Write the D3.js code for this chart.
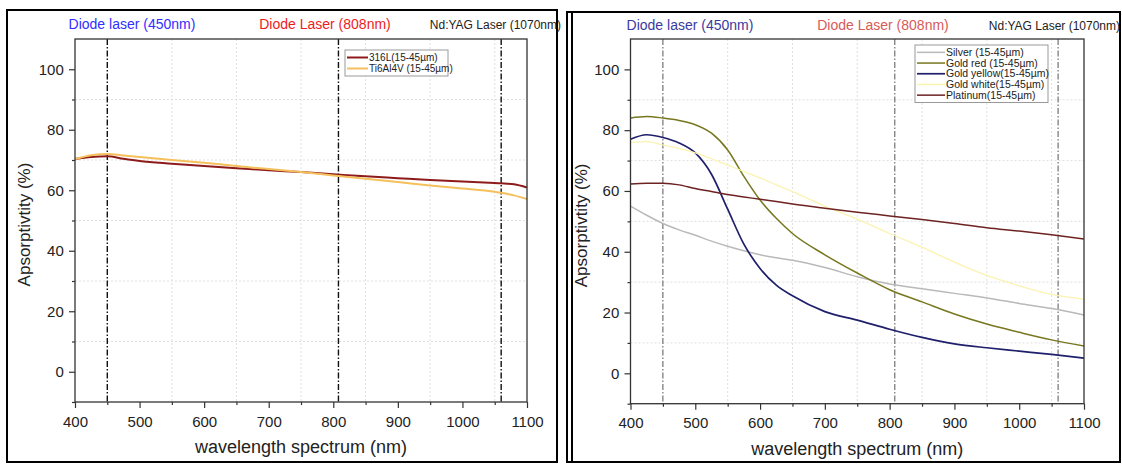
<!DOCTYPE html>
<html>
<head>
<meta charset="utf-8">
<script src="https://cdn.jsdelivr.net/npm/d3@7"></script>
<style>
  body { margin: 0; background: #fff; }
  svg { display: block; font-family: "Liberation Sans", Arial, sans-serif; }
</style>
</head>
<body>
<svg id="chart" width="1122" height="464"></svg>
<script>
// ---- data ----
const laserLines = [450, 808, 1060]
const xTicks = [400, 500, 600, 700, 800, 900, 1000, 1100]
const yTicks = [0, 20, 40, 60, 80, 100]

// left panel
const wlLeft = [400, 425, 450, 475, 500, 550, 600, 650, 700, 750, 800, 850, 900, 950, 1000, 1050, 1060, 1080, 1100]
const abs316L = [70.3, 71.0, 71.2, 70.4, 69.7, 68.8, 68.0, 67.3, 66.6, 66.0, 65.3, 64.6, 64.0, 63.4, 62.9, 62.4, 62.3, 62.0, 60.9]
const absTi64 = [70.3, 71.6, 72.0, 71.5, 71.0, 70.0, 69.1, 68.0, 67.0, 66.0, 64.9, 63.8, 62.7, 61.6, 60.6, 59.5, 59.2, 58.3, 57.1]

// right panel
const wlRight = [400, 425, 450, 475, 500, 525, 550, 575, 600, 625, 650, 700, 750, 800, 850, 900, 950, 1000, 1050, 1100]
const absSilver = [55, 52, 49.3, 47.2, 45.4, 43.5, 41.8, 40.3, 39, 38, 37.2, 34.8, 31.8, 29.4, 27.8, 26.3, 24.8, 23, 21.3, 19.2]
const absGoldRed = [84, 84.5, 84, 83.2, 81.8, 79, 73.5, 64.8, 57, 51, 46, 39, 33, 27.5, 23.5, 19.5, 16.2, 13.5, 11, 9]
const absGoldYellow = [77, 78.5, 77.6, 75.8, 72.5, 65.5, 54, 42.5, 34.5, 29, 25.5, 20.3, 17.5, 14.5, 11.8, 9.7, 8.4, 7.3, 6.2, 5]
const absGoldWhite = [76, 76.2, 75.1, 74, 72.5, 70.6, 68.5, 66.4, 64.3, 62, 59.8, 55, 50.7, 46, 41.5, 36.6, 32.2, 28.8, 26, 24.4]
const absPlatinum = [62.3, 62.5, 62.5, 62, 60.8, 59.8, 58.8, 58, 57.3, 56.5, 55.7, 54.3, 53, 51.8, 50.6, 49.3, 47.9, 46.8, 45.6, 44.2]

const svg = d3.select("#chart")

function drawPanel(cfg) {
    const g = svg.append("g")

    // outer frame of the picture
    g.append("rect")
        .attr("x", cfg.box[0]).attr("y", cfg.box[1])
        .attr("width", cfg.box[2]).attr("height", cfg.box[3])
        .attr("fill", "none").attr("stroke", "#000").attr("stroke-width", 2)

    const x = d3.scaleLinear().domain([400, 1100]).range([cfg.left, cfg.right])
    const y = d3.scaleLinear().domain([-10, 110]).range([cfg.bottom, cfg.top])

    // light dotted grid on the minor positions
    const gridX = d3.range(550, 1100, 100)
    const gridY = d3.range(10, 110, 20)
    g.selectAll(".gx").data(gridX).join("line")
        .attr("x1", d => x(d)).attr("x2", d => x(d))
        .attr("y1", cfg.top).attr("y2", cfg.bottom)
        .attr("stroke", "#d8d8d8").attr("stroke-width", 0.8).attr("stroke-dasharray", "2,2")
    g.selectAll(".gy").data(gridY).join("line")
        .attr("x1", cfg.left).attr("x2", cfg.right)
        .attr("y1", d => y(d)).attr("y2", d => y(d))
        .attr("stroke", "#d8d8d8").attr("stroke-width", 0.8).attr("stroke-dasharray", "2,2")

    // laser wavelength markers
    g.selectAll(".laser").data(laserLines).join("line")
        .attr("x1", d => x(d)).attr("x2", d => x(d))
        .attr("y1", cfg.top).attr("y2", cfg.bottom)
        .attr("stroke", cfg.laserColor).attr("stroke-width", cfg.laserWidth)
        .attr("stroke-dasharray", "6,2,1.5,2")

    // curves
    const line = d3.line()
        .x(d => x(d[0])).y(d => y(d[1]))
        .curve(d3.curveMonotoneX)
    cfg.series.forEach(s => {
        g.append("path")
            .datum(cfg.wl.map((w, i) => [w, s.values[i]]))
            .attr("d", line)
            .attr("fill", "none")
            .attr("stroke", s.color)
            .attr("stroke-width", s.width)
    })

    // frame of the plot area
    g.append("rect")
        .attr("x", cfg.left).attr("y", cfg.top)
        .attr("width", cfg.right - cfg.left).attr("height", cfg.bottom - cfg.top)
        .attr("fill", "none").attr("stroke", "#333").attr("stroke-width", 1.3)

    // axes
    const xAxis = g.append("g")
        .attr("transform", `translate(0,${cfg.bottom})`)
        .call(d3.axisBottom(x).tickValues(xTicks).tickSize(6).tickFormat(d3.format("d")))
    const xMinor = g.append("g")
        .attr("transform", `translate(0,${cfg.bottom})`)
        .call(d3.axisBottom(x).tickValues(d3.range(450, 1100, 100)).tickSize(3).tickFormat(""))
    const yAxis = g.append("g")
        .attr("transform", `translate(${cfg.left},0)`)
        .call(d3.axisLeft(y).tickValues(yTicks).tickSize(6))
    const yMinor = g.append("g")
        .attr("transform", `translate(${cfg.left},0)`)
        .call(d3.axisLeft(y).tickValues(d3.range(-10, 110, 20)).tickSize(3).tickFormat(""))

    ;[xAxis, xMinor, yAxis, yMinor].forEach(a => {
        a.select(".domain").remove()
        a.selectAll(".tick line").attr("stroke", "#333").attr("stroke-width", 1.2)
    })
    xAxis.selectAll("text").attr("font-size", 15).attr("fill", "#222").attr("dy", "1.05em")
    yAxis.selectAll("text").attr("font-size", 15).attr("fill", "#222").attr("dx", "-0.15em")

    // axis titles
    g.append("text")
        .attr("x", (cfg.left + cfg.right) / 2).attr("y", cfg.bottom + 51)
        .attr("text-anchor", "middle").attr("font-size", 18).attr("fill", "#222")
        .text("wavelength spectrum (nm)")
    g.append("text")
        .attr("transform", `translate(${cfg.yTitleX},${(cfg.top + cfg.bottom) / 2 + 4}) rotate(-90)`)
        .attr("text-anchor", "middle").attr("font-size", 17).attr("fill", "#222")
        .text("Apsorptivtity (%)")

    // laser headings
    cfg.headers.forEach(h => {
        g.append("text")
            .attr("x", h.x).attr("y", cfg.headerY)
            .attr("text-anchor", h.anchor)
            .attr("font-size", h.size).attr("fill", h.color)
            .text(h.text)
    })

    // legend
    const lg = cfg.legend
    g.append("rect")
        .attr("x", lg.x).attr("y", lg.y).attr("width", lg.w).attr("height", lg.rowH * cfg.series.length + 4)
        .attr("fill", "#fff").attr("stroke", "#999").attr("stroke-width", 1)
    cfg.series.forEach((s, i) => {
        const ry = lg.y + 2 + lg.rowH * (i + 0.5)
        g.append("line")
            .attr("x1", lg.x + 2).attr("x2", lg.x + lg.lineW)
            .attr("y1", ry).attr("y2", ry)
            .attr("stroke", s.color).attr("stroke-width", Math.max(s.width, 1.5))
        g.append("text")
            .attr("x", lg.x + lg.lineW + 1).attr("y", ry + 3.5)
            .attr("font-size", lg.font).attr("fill", "#222")
            .text(s.name)
    })
}

drawPanel({
    box: [7, 10, 550, 452],
    left: 75, right: 527, top: 39, bottom: 402,
    yTitleX: 30, headerY: 29,
    laserColor: "#111", laserWidth: 1.4,
    wl: wlLeft,
    series: [
        { name: "316L(15-45\u00b5m)", values: abs316L, color: "#8e1b1b", width: 2 },
        { name: "Ti6Al4V (15-45\u00b5m)", values: absTi64, color: "#f5c05c", width: 2 }
    ],
    headers: [
        { text: "Diode laser (450nm)", x: 132, anchor: "middle", size: 14, color: "#2f2fff" },
        { text: "Diode Laser (808nm)", x: 325, anchor: "middle", size: 14, color: "#ee1c1c" },
        { text: "Nd:YAG Laser (1070nm)", x: 561, anchor: "end", size: 12, color: "#222" }
    ],
    legend: { x: 345, y: 50, w: 103, rowH: 11, lineW: 23, font: 10 }
})

drawPanel({
    box: [567, 12, 553, 450],
    left: 630.5, right: 1084, top: 39, bottom: 403.7,
    yTitleX: 587, headerY: 30,
    laserColor: "#555", laserWidth: 1,
    wl: wlRight,
    series: [
        { name: "Silver (15-45\u00b5m)", values: absSilver, color: "#b9b9b9", width: 1.5 },
        { name: "Gold red (15-45\u00b5m)", values: absGoldRed, color: "#77771f", width: 1.5 },
        { name: "Gold yellow(15-45\u00b5m)", values: absGoldYellow, color: "#1f1f6b", width: 1.7 },
        { name: "Gold white(15-45\u00b5m)", values: absGoldWhite, color: "#fbf3b0", width: 1.3 },
        { name: "Platinum(15-45\u00b5m)", values: absPlatinum, color: "#6e2222", width: 1.5 }
    ],
    headers: [
        { text: "Diode laser (450nm)", x: 690, anchor: "middle", size: 14, color: "#3a3aa0" },
        { text: "Diode Laser (808nm)", x: 883, anchor: "middle", size: 14, color: "#d75a5a" },
        { text: "Nd:YAG Laser (1070nm)", x: 1120, anchor: "end", size: 12, color: "#222" }
    ],
    legend: { x: 915, y: 45, w: 133, rowH: 10.7, lineW: 30, font: 10.5 }
})

// second edge line on the left of the right picture
svg.append("line")
    .attr("x1", 572).attr("x2", 572).attr("y1", 12).attr("y2", 462)
    .attr("stroke", "#000").attr("stroke-width", 2)
</script>
</body>
</html>
